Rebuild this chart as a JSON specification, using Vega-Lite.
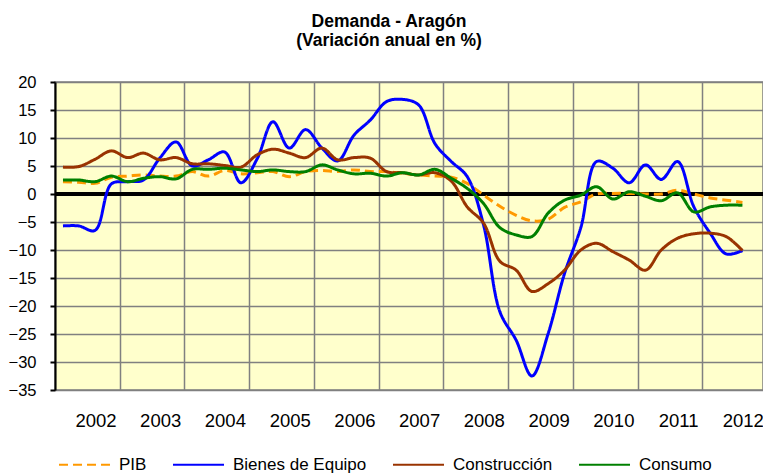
{
  "$schema": "https://vega.github.io/schema/vega-lite/v6.json",
  "width": 708,
  "height": 308,
  "autosize": {"type": "none"},
  "padding": {"left": 55, "top": 82, "right": 0, "bottom": 84},
  "background": "white",
  "title": {
    "text": ["Demanda - Aragón", "(Variación anual en %)"],
    "font": "Liberation Sans",
    "fontSize": 17.5,
    "fontWeight": "bold",
    "color": "black",
    "anchor": "middle",
    "dx": -20,
    "lineHeight": 19,
    "offset": 25
  },
  "config": {
    "font": "Liberation Sans",
    "view": {"fill": "#FFFFCC", "stroke": "#808080", "strokeWidth": 1.5},
    "axisY": {
      "title": null,
      "labelFontSize": 16.5,
      "labelColor": "black",
      "labelPadding": 14,
      "labelOverlap": false,
      "labelFlush": false,
      "tickSize": 5,
      "tickColor": "black",
      "tickWidth": 2,
      "domainColor": "black",
      "domainWidth": 2,
      "grid": true,
      "gridColor": "#808080",
      "gridWidth": 1.5
    },
    "axisX": {
      "title": null,
      "labelAlign": "center",
      "labelFontSize": 18.5,
      "labelColor": "black",
      "labelPadding": 21,
      "labelFlush": false,
      "labelOverlap": false,
      "ticks": false,
      "domain": false,
      "grid": true,
      "gridColor": "#808080",
      "gridWidth": 1.5
    }
  },
  "data": {
    "values": [
      {"fecha": "2002-02-15", "PIB": 2.2, "Bienes de Equipo": -5.7, "Construcción": 4.8, "Consumo": 2.5},
      {"fecha": "2002-05-15", "PIB": 2.1, "Bienes de Equipo": -5.7, "Construcción": 4.9, "Consumo": 2.5},
      {"fecha": "2002-08-15", "PIB": 1.9, "Bienes de Equipo": -6.5, "Construcción": 6.2, "Consumo": 2.2},
      {"fecha": "2002-11-15", "PIB": 3.0, "Bienes de Equipo": 1.8, "Construcción": 7.7, "Consumo": 3.2},
      {"fecha": "2003-02-15", "PIB": 3.2, "Bienes de Equipo": 2.2, "Construcción": 6.5, "Consumo": 2.2},
      {"fecha": "2003-05-15", "PIB": 3.4, "Bienes de Equipo": 2.5, "Construcción": 7.3, "Consumo": 2.8},
      {"fecha": "2003-08-15", "PIB": 3.2, "Bienes de Equipo": 6.4, "Construcción": 6.1, "Consumo": 3.1},
      {"fecha": "2003-11-15", "PIB": 3.2, "Bienes de Equipo": 9.3, "Construcción": 6.5, "Consumo": 2.7},
      {"fecha": "2004-02-15", "PIB": 4.0, "Bienes de Equipo": 5.0, "Construcción": 5.4, "Consumo": 4.4},
      {"fecha": "2004-05-15", "PIB": 3.2, "Bienes de Equipo": 6.1, "Construcción": 5.4, "Consumo": 4.4},
      {"fecha": "2004-08-15", "PIB": 4.2, "Bienes de Equipo": 7.5, "Construcción": 5.1, "Consumo": 4.6},
      {"fecha": "2004-11-15", "PIB": 3.6, "Bienes de Equipo": 2.0, "Construcción": 4.8, "Consumo": 4.3},
      {"fecha": "2005-02-15", "PIB": 3.8, "Bienes de Equipo": 6.3, "Construcción": 7.0, "Consumo": 4.0},
      {"fecha": "2005-05-15", "PIB": 4.0, "Bienes de Equipo": 12.9, "Construcción": 8.0, "Consumo": 4.3},
      {"fecha": "2005-08-15", "PIB": 3.1, "Bienes de Equipo": 8.2, "Construcción": 7.3, "Consumo": 4.0},
      {"fecha": "2005-11-15", "PIB": 4.0, "Bienes de Equipo": 11.5, "Construcción": 6.5, "Consumo": 4.0},
      {"fecha": "2006-02-15", "PIB": 4.2, "Bienes de Equipo": 8.2, "Construcción": 8.2, "Consumo": 5.2},
      {"fecha": "2006-05-15", "PIB": 4.0, "Bienes de Equipo": 5.9, "Construcción": 6.1, "Consumo": 4.3},
      {"fecha": "2006-08-15", "PIB": 4.3, "Bienes de Equipo": 10.5, "Construcción": 6.5, "Consumo": 3.6},
      {"fecha": "2006-11-15", "PIB": 4.0, "Bienes de Equipo": 13.2, "Construcción": 6.4, "Consumo": 3.7},
      {"fecha": "2007-02-15", "PIB": 4.0, "Bienes de Equipo": 16.5, "Construcción": 4.0, "Consumo": 3.2},
      {"fecha": "2007-05-15", "PIB": 3.7, "Bienes de Equipo": 16.9, "Construcción": 3.8, "Consumo": 3.8},
      {"fecha": "2007-08-15", "PIB": 3.4, "Bienes de Equipo": 15.9, "Construcción": 3.4, "Consumo": 3.4},
      {"fecha": "2007-11-15", "PIB": 3.2, "Bienes de Equipo": 9.0, "Construcción": 3.8, "Consumo": 4.4},
      {"fecha": "2008-02-15", "PIB": 3.0, "Bienes de Equipo": 5.8, "Construcción": 2.3, "Consumo": 2.8},
      {"fecha": "2008-05-15", "PIB": 1.9, "Bienes de Equipo": 3.1, "Construcción": -2.3, "Consumo": 1.0},
      {"fecha": "2008-08-15", "PIB": -0.2, "Bienes de Equipo": -5.5, "Construcción": -5.2, "Consumo": -1.7},
      {"fecha": "2008-11-15", "PIB": -2.2, "Bienes de Equipo": -21.0, "Construcción": -12.0, "Consumo": -6.0},
      {"fecha": "2009-02-15", "PIB": -3.8, "Bienes de Equipo": -26.1, "Construcción": -13.6, "Consumo": -7.3},
      {"fecha": "2009-05-15", "PIB": -4.8, "Bienes de Equipo": -32.5, "Construcción": -17.4, "Consumo": -7.6},
      {"fecha": "2009-08-15", "PIB": -4.5, "Bienes de Equipo": -24.9, "Construcción": -16.0, "Consumo": -3.4},
      {"fecha": "2009-11-15", "PIB": -2.4, "Bienes de Equipo": -14.2, "Construcción": -13.6, "Consumo": -1.1},
      {"fecha": "2010-02-15", "PIB": -1.4, "Bienes de Equipo": -6.0, "Construcción": -10.0, "Consumo": -0.2},
      {"fecha": "2010-05-15", "PIB": 0.0, "Bienes de Equipo": 5.8, "Construcción": -8.8, "Consumo": 1.3},
      {"fecha": "2010-08-15", "PIB": 0.1, "Bienes de Equipo": 4.6, "Construcción": -10.3, "Consumo": -0.9},
      {"fecha": "2010-11-15", "PIB": 0.1, "Bienes de Equipo": 2.0, "Construcción": -11.8, "Consumo": 0.4},
      {"fecha": "2011-02-15", "PIB": 0.0, "Bienes de Equipo": 5.2, "Construcción": -13.6, "Consumo": -0.4},
      {"fecha": "2011-05-15", "PIB": 0.0, "Bienes de Equipo": 2.6, "Construcción": -10.0, "Consumo": -1.2},
      {"fecha": "2011-08-15", "PIB": 0.7, "Bienes de Equipo": 5.8, "Construcción": -7.9, "Consumo": 0.2},
      {"fecha": "2011-11-15", "PIB": 0.0, "Bienes de Equipo": -2.3, "Construcción": -7.1, "Consumo": -3.2},
      {"fecha": "2012-02-15", "PIB": -0.7, "Bienes de Equipo": -7.0, "Construcción": -7.0, "Consumo": -2.3},
      {"fecha": "2012-05-15", "PIB": -1.1, "Bienes de Equipo": -10.7, "Construcción": -7.6, "Consumo": -2.0},
      {"fecha": "2012-08-15", "PIB": -1.5, "Bienes de Equipo": -10.1, "Construcción": -10.1, "Consumo": -2.0}
    ]
  },
  "layer": [
    {
      "mark": {"type": "rule", "color": "black", "strokeWidth": 3},
      "encoding": {
        "y": {
          "datum": 0,
          "type": "quantitative",
          "scale": {"domain": [-35, 20], "nice": false},
          "axis": {"values": [-35, -30, -25, -20, -15, -10, -5, 0, 5, 10, 15, 20]}
        }
      }
    },
    {
      "transform": [
        {"fold": ["PIB", "Bienes de Equipo", "Construcción", "Consumo"], "as": ["serie", "valor"]}
      ],
      "mark": {"type": "line", "strokeWidth": 3, "interpolate": "catmull-rom"},
      "encoding": {
        "x": {
          "field": "fecha",
          "type": "temporal",
          "scale": {
            "type": "utc",
            "domain": [
              {"year": 2002, "month": 1, "date": 1, "utc": true},
              {"year": 2012, "month": 12, "date": 9, "utc": true}
            ]
          },
          "axis": {
            "values": [
              {"year": 2002, "month": 1, "date": 1, "utc": true},
              {"year": 2003, "month": 1, "date": 1, "utc": true},
              {"year": 2004, "month": 1, "date": 1, "utc": true},
              {"year": 2005, "month": 1, "date": 1, "utc": true},
              {"year": 2006, "month": 1, "date": 1, "utc": true},
              {"year": 2007, "month": 1, "date": 1, "utc": true},
              {"year": 2008, "month": 1, "date": 1, "utc": true},
              {"year": 2009, "month": 1, "date": 1, "utc": true},
              {"year": 2010, "month": 1, "date": 1, "utc": true},
              {"year": 2011, "month": 1, "date": 1, "utc": true},
              {"year": 2012, "month": 1, "date": 1, "utc": true}
            ],
            "labelExpr": "utcFormat(datum.value, '%Y')",
            "labelOffset": 40.5
          }
        },
        "y": {
          "field": "valor",
          "type": "quantitative",
          "scale": {"domain": [-35, 20], "nice": false},
          "axis": {"values": [-35, -30, -25, -20, -15, -10, -5, 0, 5, 10, 15, 20]}
        },
        "color": {
          "field": "serie",
          "type": "nominal",
          "scale": {
            "domain": ["PIB", "Bienes de Equipo", "Construcción", "Consumo"],
            "range": ["#FF9900", "#0000FF", "#993300", "#008000"]
          },
          "legend": {
            "title": null,
            "orient": "none",
            "direction": "horizontal",
            "columns": 4,
            "legendX": 3,
            "legendY": 356,
            "padding": 0,
            "symbolType": "stroke",
            "symbolSize": 2600,
            "symbolStrokeWidth": 2,
            "labelFontSize": 17,
            "labelColor": "black",
            "labelOffset": 8,
            "columnPadding": 22
          }
        },
        "strokeDash": {
          "field": "serie",
          "type": "nominal",
          "scale": {
            "domain": ["PIB", "Bienes de Equipo", "Construcción", "Consumo"],
            "range": [[9, 5], [1, 0], [1, 0], [1, 0]]
          },
          "legend": null
        }
      }
    }
  ]
}
